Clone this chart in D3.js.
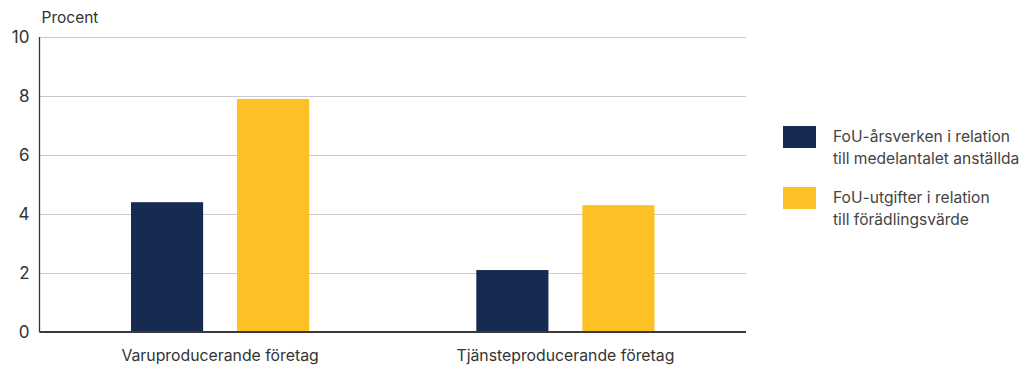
<!DOCTYPE html>
<html>
<head>
<meta charset="utf-8">
<script src="https://cdn.jsdelivr.net/npm/d3@7"></script>
<style>
  body { margin: 0; background: #fff; }
  text { font-family: Inter, "Noto Sans", sans-serif; }
</style>
</head>
<body>
<div id="chart"></div>
<script>
// data
var categories = ["Varuproducerande företag", "Tjänsteproducerande företag"];
var seriesNames = ["FoU-årsverken i relation\ntill medelantalet anställda", "FoU-utgifter i relation\ntill förädlingsvärde"];
var arsverken = [4.4, 2.1];
var utgifter = [7.9, 4.3];
var yTicks = [0, 2, 4, 6, 8, 10];

var colors = ["#172a51", "#fdc125"];

var fullWidth = 1023, fullHeight = 365;
var margin = {top: 37, right: 277, bottom: 33, left: 39.5};
var width = fullWidth - margin.left - margin.right;
var height = fullHeight - margin.top - margin.bottom;

var svg = d3.select("#chart").append("svg")
  .attr("width", fullWidth)
  .attr("height", fullHeight)
  .append("g")
  .attr("transform", "translate(" + margin.left + "," + margin.top + ")");

var y = d3.scaleLinear().domain([0, 10]).range([height, 0]);

var x0 = d3.scaleBand()
  .domain(categories)
  .range([0, width])
  .paddingInner(0.484)
  .paddingOuter(0.265);

var x1 = d3.scaleBand()
  .domain([0, 1])
  .range([0, x0.bandwidth()])
  .paddingInner(0.32);

// grid lines
svg.append("g").selectAll("line")
  .data(yTicks.filter(function(d){ return d > 0; }))
  .enter().append("line")
    .attr("x1", 0).attr("x2", width)
    .attr("y1", function(d){ return Math.round(y(d)) + 0.5; })
    .attr("y2", function(d){ return Math.round(y(d)) + 0.5; })
    .attr("stroke", "#c8c8c8")
    .attr("stroke-width", 1.2);

// bars
var rows = categories.map(function(c, i){ return {cat: c, vals: [arsverken[i], utgifter[i]]}; });

var groups = svg.selectAll(".grp")
  .data(rows)
  .enter().append("g")
    .attr("transform", function(d){ return "translate(" + x0(d.cat) + ",0)"; });

groups.selectAll("rect")
  .data(function(d){ return d.vals.map(function(v, k){ return {k: k, v: v}; }); })
  .enter().append("rect")
    .attr("x", function(d){ return x1(d.k); })
    .attr("width", x1.bandwidth())
    .attr("y", function(d){ return y(d.v); })
    .attr("height", function(d){ return height - y(d.v); })
    .attr("fill", function(d){ return colors[d.k]; });

// axes lines
svg.append("line")
  .attr("x1", 0).attr("x2", 0)
  .attr("y1", 0).attr("y2", height)
  .attr("stroke", "#333").attr("stroke-width", 1.3);

svg.append("line")
  .attr("x1", 0).attr("x2", width)
  .attr("y1", height).attr("y2", height)
  .attr("stroke", "#3a3a3a").attr("stroke-width", 2);

// y tick labels
svg.append("g").selectAll("text")
  .data(yTicks)
  .enter().append("text")
    .attr("x", -10)
    .attr("y", function(d){ return y(d); })
    .attr("dy", "0.36em")
    .attr("text-anchor", "end")
    .attr("font-size", 17)
    .attr("fill", "#333")
    .text(function(d){ return d; });

svg.append("text")
  .attr("x", 2)
  .attr("y", -14)
  .attr("font-size", 15.5)
  .attr("fill", "#333")
  .text("Procent");

// x labels
svg.append("g").selectAll("text")
  .data(categories)
  .enter().append("text")
    .attr("x", function(d){ return x0(d) + x0.bandwidth() / 2; })
    .attr("y", height + 29)
    .attr("text-anchor", "middle")
    .attr("font-size", 15.8)
    .attr("fill", "#333")
    .text(function(d){ return d; });

// legend
var legend = d3.select("svg").append("g")
  .attr("transform", "translate(783,126)");

var items = legend.selectAll("g")
  .data(seriesNames)
  .enter().append("g")
    .attr("transform", function(d, i){ return "translate(0," + (i * 61) + ")"; });

items.append("rect")
  .attr("width", 33).attr("height", 22)
  .attr("fill", function(d, i){ return colors[i]; });

items.append("text")
  .attr("x", 50)
  .attr("y", 0)
  .attr("font-size", 15.6)
  .attr("fill", "#444")
  .selectAll("tspan")
  .data(function(d){ return d.split("\n"); })
  .enter().append("tspan")
    .attr("x", 50)
    .attr("y", function(d, i){ return 16 + i * 22; })
    .text(function(d){ return d; });
</script>
</body>
</html>
